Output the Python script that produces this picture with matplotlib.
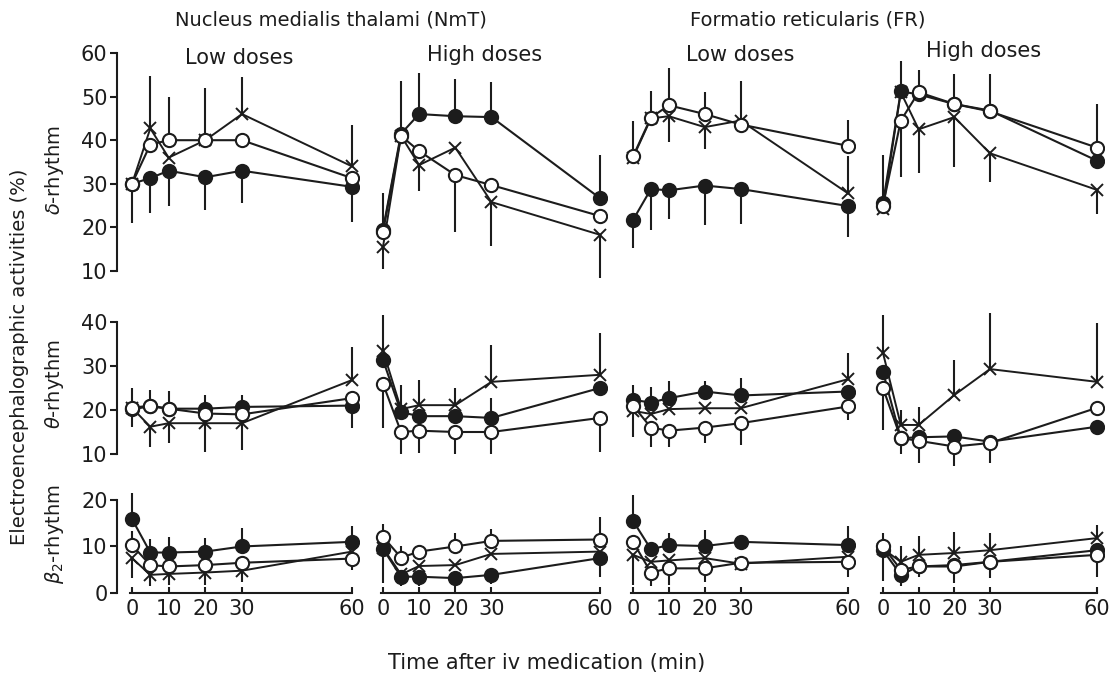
import matplotlib.pyplot as plt

# time points (min) and axis labels
t = [0, 5, 10, 20, 30, 60]
t_ticks = [0, 10, 20, 30, 60]
panels = ["NmT low", "NmT high", "FR low", "FR high"]

# delta rhythm, one row per panel (NmT low, NmT high, FR low, FR high)
delta_filled = [[30, 31.3, 33, 31.5, 33, 29.3],
                [19.5, 41.5, 46, 45.5, 45.3, 26.7],
                [21.7, 28.8, 28.5, 29.6, 28.8, 24.9],
                [25.5, 51.2, 50.5, 48.3, 46.8, 35.3]]
delta_open = [[30, 39, 40, 40, 40, 31.3],
              [19, 41, 37.5, 32, 29.7, 22.6],
              [36.3, 45.2, 48, 46, 43.6, 38.7],
              [25, 44.5, 51, 48.3, 46.6, 38.3]]
delta_cross = [[30, 42.7, 36, 40, 46, 34],
               [15.5, 41, 34.3, 38.3, 25.8, 18.3],
               [36, 45, 45.5, 43, 44.5, 27.8],
               [24.3, 51, 42.5, 45.3, 37, 28.6]]
# signed SD bars: + drawn upward, - drawn downward
delta_filled_err = [[-9, -8, -8, -7.5, -7.5, -8],
                    [0, 12, 9.5, 8.5, 8, 10],
                    [-6.5, -9.5, -6.5, -9, -8, -7],
                    [11, 7, 5.5, 7, 8.5, 0]]
delta_open_err = [[0, 0, 10, 12, 0, 0],
                  [9, 0, 0, -13, 0, 0],
                  [8, 6, 8.5, 5, 0, 6],
                  [0, -13, 0, 0, 0, 10]]
delta_cross_err = [[0, 12, 0, 0, 8.5, 9.5],
                   [-5, 0, -6, 0, -10, -10],
                   [0, 0, -6, -5, 9, 8.5],
                   [0, 0, -10, -11.5, -6.5, -5.5]]

# theta rhythm
theta_filled = [[20.2, 20.8, 20.3, 20.3, 20.7, 21],
                [31.4, 19.5, 18.6, 18.6, 18.2, 25],
                [22.3, 21.7, 22.7, 24.2, 23.3, 24.2],
                [28.7, 13.6, 13.8, 14, 12.8, 16.2]]
theta_open = [[20.5, 21, 20.3, 19.2, 19, 22.7],
              [26, 15, 15.3, 15, 15, 18.2],
              [21, 16, 15.3, 16, 17, 20.8],
              [25, 13.6, 13, 11.7, 12.5, 20.5]]
theta_cross = [[20.5, 16.2, 17, 17, 17, 26.8],
               [33.5, 20.2, 21.1, 21.1, 26.4, 28],
               [19.8, 19.1, 20.2, 20.4, 20.4, 27],
               [33, 16.6, 16.6, 23.4, 29.3, 26.4]]
theta_filled_err = [[-4, 0, 0, 3, 2.7, -5],
                    [0, 0, 0, 0, 4.5, 0],
                    [3.4, 3.6, 4, 2.5, 4, 0],
                    [0, 0, 0, 1.5, 1, 0]]
theta_open_err = [[4.5, 3.5, 4, 0, 0, 0],
                  [-10, -5, -5, -5, -5, -7.7],
                  [0, -4.3, -3.6, -3.5, -5, -3],
                  [-9.5, -3.5, -5, -4.4, -4.5, 0]]
theta_cross_err = [[0, -4.5, -4.5, -6.5, -6, 7.5],
                   [8, 5.5, 5.7, 4, 8.4, 9.5],
                   [-6, 0, 0, 0, 0, 6],
                   [8.6, 3.5, 4, 8, 12.7, 13.4]]

# beta2 rhythm
beta_filled = [[15.9, 8.7, 8.7, 8.9, 10, 11],
               [9.5, 3.5, 3.5, 3.2, 3.9, 7.5],
               [15.5, 9.4, 10.3, 10.1, 11, 10.3],
               [9.2, 3.9, 5.7, 6, 6.7, 9.2]]
beta_open = [[10.3, 6, 5.7, 6, 6.5, 7.4],
             [12.1, 7.6, 8.9, 10, 11.2, 11.5],
             [11, 4.4, 5.3, 5.3, 6.5, 6.7],
             [10, 5, 5.7, 5.7, 6.7, 8.2]]
beta_cross = [[7.5, 3.9, 4.1, 4.4, 4.8, 8.9],
              [9.7, 4, 5.8, 6, 8.4, 8.9],
              [8.2, 6.7, 7, 7.5, 6.3, 7.8],
              [9.5, 6.7, 8.2, 8.6, 9.2, 11.8]]
beta_filled_err = [[5.6, 3, 3.4, 3, 4, 3.3],
                   [0, -2, -2, -2, -2, -4],
                   [5.5, 0, 2.7, 3.4, 1.5, 4],
                   [0, -2.5, -2.2, -3.8, -3.5, -5.7]]
beta_open_err = [[3, 0, 0, 0, 0, -2.5],
                 [2.7, 2.4, 0, 3, 2.5, 4.8],
                 [0, -3, -3.5, -3, 0, -3.2],
                 [2.8, 0, 0, 0, 0, 0]]
beta_cross_err = [[-4.3, -2.5, -2.4, -2.7, -2.4, 0],
                  [-7.5, 0, 0, 0, 0, 0],
                  [-6.5, 0, 0, 0, 0, 0],
                  [-7, 3.3, 4, 4.6, 3.6, 2.8]]

rows = [
    (delta_filled, delta_open, delta_cross, delta_filled_err, delta_open_err, delta_cross_err),
    (theta_filled, theta_open, theta_cross, theta_filled_err, theta_open_err, theta_cross_err),
    (beta_filled, beta_open, beta_cross, beta_filled_err, beta_open_err, beta_cross_err),
]
row_ylim = [(6, 62), (6.5, 42), (0, 23)]
row_bounds = [(10, 60), (10, 40), (0, 20)]
row_ticks = [[10, 20, 30, 40, 50, 60], [10, 20, 30, 40], [0, 10, 20]]

W, H = 1117, 681
INK = "#1c1c1c"
plt.rcParams['font.family'] = ['DejaVu Sans']

fig = plt.figure(figsize=(W / 100, H / 100), dpi=100)

# axes boxes in pixels (left, width) and (top, bottom)
col_px = [(117.3, 242), (368.5, 238.7), (618.7, 236.5), (868.7, 235.4)]
row_px = [(44.3, 288.4), (313.2, 469.4), (486, 593)]


def bars(ax, y, err):
    lo = [-e if e < 0 else 0 for e in err]
    hi = [e if e > 0 else 0 for e in err]
    ax.errorbar(t, y, yerr=[lo, hi], fmt='none', ecolor=INK, elinewidth=1.5,
                capsize=0, zorder=1)


for r, (fl, op, cr, fe, oe, ce) in enumerate(rows):
    top, bot = row_px[r]
    for c in range(4):
        left, width = col_px[c]
        ax = fig.add_axes([left / W, 1 - bot / H, width / W, (bot - top) / H])
        ax.set_xlim(-4, 62)
        ax.set_ylim(*row_ylim[r])
        ax.patch.set_alpha(0)

        bars(ax, fl[c], fe[c])
        bars(ax, op[c], oe[c])
        bars(ax, cr[c], ce[c])

        ax.plot(t, cr[c], color=INK, lw=1.4, marker='x', ms=9, mew=1.4,
                zorder=2)
        ax.plot(t, fl[c], color=INK, lw=1.5, marker='o', ms=9.5, mew=1.5,
                mfc=INK, zorder=3)
        ax.plot(t, op[c], color=INK, lw=1.5, marker='o', ms=9.5, mew=1.5,
                mfc='white', zorder=4)

        for s in ['top', 'right']:
            ax.spines[s].set_visible(False)
        ax.spines['left'].set_visible(c == 0)
        ax.spines['bottom'].set_visible(r == 2)
        for s in ['left', 'bottom']:
            ax.spines[s].set_linewidth(1.5)
            ax.spines[s].set_color(INK)

        if c == 0:
            ax.spines['left'].set_bounds(*row_bounds[r])
            ax.set_yticks(row_ticks[r])
            ax.tick_params(axis='y', length=5, width=1.5, color=INK,
                           labelsize=15, pad=2, labelcolor=INK)
        else:
            ax.set_yticks([])

        if r == 2:
            ax.spines['bottom'].set_bounds(-0.5, 60)
            ax.set_xticks(t_ticks)
            ax.tick_params(axis='x', direction='in', length=4, width=1.5,
                           color=INK, labelsize=15, pad=4, labelcolor=INK)
        else:
            ax.set_xticks([])

# titles and labels
fig.text(331 / W, 1 - 20 / H, "Nucleus medialis thalami (NmT)", ha='center',
         va='center', fontsize=14, color=INK)
fig.text(808 / W, 1 - 20 / H, "Formatio reticularis (FR)", ha='center',
         va='center', fontsize=14, color=INK)
for x, y, s in [(239, 58, "Low doses"), (485, 55, "High doses"),
                (740, 55, "Low doses"), (984, 51, "High doses")]:
    fig.text(x / W, 1 - y / H, s, ha='center', va='center', fontsize=15,
             color=INK)

fig.text(20 / W, 1 - 357 / H, "Electroencephalographic activities (%)",
         rotation=90, ha='center', va='center', fontsize=14, color=INK)
fig.text(55 / W, 1 - 170 / H, r"$\delta$-rhythm", rotation=90, ha='center',
         va='center', fontsize=14, color=INK)
fig.text(55 / W, 1 - 384 / H, r"$\theta$-rhythm", rotation=90, ha='center',
         va='center', fontsize=14, color=INK)
fig.text(55 / W, 1 - 534 / H, r"$\beta_2$-rhythm", rotation=90, ha='center',
         va='center', fontsize=14, color=INK)
fig.text(547 / W, 1 - 663 / H, "Time after iv medication (min)", ha='center',
         va='center', fontsize=15, color=INK)

fig.savefig("out.png", dpi=100, facecolor='white')
